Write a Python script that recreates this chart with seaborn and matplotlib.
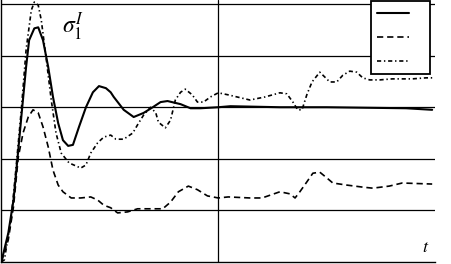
import numpy as np
import pandas as pd
import matplotlib
matplotlib.use("Agg")
import matplotlib.pyplot as plt
import seaborn as sns
from matplotlib.lines import Line2D

# ---- data ----
t_solid = [0, 0.16, 0.28, 0.39, 0.46, 0.57, 0.64, 0.76, 0.85, 0.96,
           1.08, 1.19, 1.31, 1.42, 1.54, 1.65, 1.79, 1.95, 2.11, 2.25,
           2.41, 2.52, 2.59, 2.82, 3.05, 3.28, 3.49, 3.67, 3.83, 4.13,
           4.36, 4.59, 5.00, 5.28, 6.42, 7.50, 9.33, 9.93]
y_solid = [0, 0.56, 1.20, 2.17, 2.81, 3.78, 4.30, 4.53, 4.55, 4.30,
           3.78, 3.20, 2.69, 2.36, 2.25, 2.27, 2.62, 3.00, 3.29, 3.41,
           3.37, 3.29, 3.20, 2.95, 2.81, 2.89, 3.00, 3.10, 3.12, 3.06,
           2.98, 2.98, 3.00, 3.02, 3.00, 3.00, 2.98, 2.95]

t_upper = [0, 0.07, 0.23, 0.34, 0.46, 0.57, 0.69, 0.76, 0.85, 0.92,
           1.03, 1.15, 1.26, 1.38, 1.56, 1.83, 1.95, 2.06, 2.22, 2.36,
           2.52, 2.64, 2.82, 3.03, 3.14, 3.28, 3.44, 3.56, 3.62, 3.78,
           3.90, 4.01, 4.13, 4.24, 4.40, 4.52, 4.66, 4.82, 5.00, 5.23,
           5.73, 6.08, 6.42, 6.58, 6.72, 6.83, 6.93, 7.04, 7.16, 7.34,
           7.45, 7.57, 7.73, 7.87, 8.03, 8.19, 8.33, 8.49, 8.72, 9.01,
           9.47, 9.79, 9.98]
y_upper = [0, 0.04, 0.87, 1.84, 2.95, 4.11, 4.88, 5.04, 4.98, 4.69,
           3.97, 3.14, 2.50, 2.11, 1.92, 1.82, 1.88, 2.11, 2.31, 2.42,
           2.46, 2.38, 2.38, 2.50, 2.66, 2.85, 3.00, 2.89, 2.71, 2.60,
           2.75, 3.14, 3.29, 3.35, 3.24, 3.10, 3.10, 3.20, 3.28, 3.24,
           3.14, 3.20, 3.28, 3.26, 3.10, 2.95, 2.95, 3.24, 3.49, 3.68,
           3.59, 3.49, 3.49, 3.62, 3.70, 3.68, 3.57, 3.53, 3.53, 3.55,
           3.55, 3.57, 3.57]

t_lower = [0, 0.16, 0.28, 0.39, 0.50, 0.62, 0.73, 0.85, 0.96, 1.08,
           1.19, 1.31, 1.42, 1.61, 1.83, 2.06, 2.22, 2.36, 2.52, 2.68,
           2.91, 3.14, 3.37, 3.72, 3.90, 4.08, 4.31, 4.52, 4.75, 5.00,
           5.23, 5.73, 6.01, 6.42, 6.65, 6.77, 6.88, 7.04, 7.18, 7.34,
           7.50, 7.64, 7.96, 8.33, 8.56, 8.94, 9.24, 9.93]
y_lower = [0, 0.43, 1.07, 2.03, 2.50, 2.81, 2.95, 2.89, 2.62, 2.23,
           1.78, 1.49, 1.36, 1.24, 1.24, 1.26, 1.20, 1.10, 1.05, 0.95,
           0.97, 1.03, 1.03, 1.03, 1.16, 1.36, 1.47, 1.40, 1.28, 1.24,
           1.26, 1.24, 1.24, 1.36, 1.32, 1.24, 1.36, 1.55, 1.72, 1.74,
           1.63, 1.53, 1.49, 1.45, 1.43, 1.47, 1.53, 1.51]

x_grid = [5]
y_grid = [1, 2, 3, 4, 5]

# ---- style ----
sns.set_style("white")
plt.rcParams["font.family"] = ["DejaVu Sans"]
plt.rcParams["mathtext.fontset"] = "stix"
plt.rcParams["lines.scale_dashes"] = False

fig = plt.figure(figsize=(4.51, 2.64), dpi=100)
ax = fig.add_axes([0.003, 0.008, 0.962, 0.992])

ax.set_xlim(0, 10)
ax.set_ylim(0, 5.08)

for gy in y_grid:
    ax.axhline(gy, color="black", lw=0.9, zorder=1)
for gx in x_grid:
    ax.axvline(gx, color="black", lw=0.9, zorder=1)

df_s = pd.DataFrame({"t": t_solid, "v": y_solid})
df_u = pd.DataFrame({"t": t_upper, "v": y_upper})
df_l = pd.DataFrame({"t": t_lower, "v": y_lower})

ls_upper = (0, (3.0, 2.0, 1.0, 2.0))
ls_lower = (0, (4.5, 2.8))

sns.lineplot(data=df_s, x="t", y="v", ax=ax, color="black", lw=1.5, errorbar=None, sort=False)
sns.lineplot(data=df_u, x="t", y="v", ax=ax, color="black", lw=1.2, errorbar=None, sort=False,
             linestyle=ls_upper)
sns.lineplot(data=df_l, x="t", y="v", ax=ax, color="black", lw=1.2, errorbar=None, sort=False,
             linestyle=ls_lower)

ax.set_xlabel("")
ax.set_ylabel("")
ax.set_xticks([])
ax.set_yticks([])
for side in ["top", "right"]:
    ax.spines[side].set_visible(False)
for side in ["left", "bottom"]:
    ax.spines[side].set_color("black")
    ax.spines[side].set_linewidth(1.0)

ax.text(1.40, 4.55, r"$\sigma_1^I$", fontsize=17, color="black", ha="left", va="center")
ax.text(9.70, 0.28, r"$t$", fontsize=13, color="black", ha="left", va="center")

handles = [Line2D([], [], color="black", lw=1.5),
           Line2D([], [], color="black", lw=1.2, linestyle=ls_lower),
           Line2D([], [], color="black", lw=1.2, linestyle=ls_upper)]
leg = fig.legend(handles, ["  ", "  ", "  "], loc="upper right",
                 bbox_to_anchor=(430 / 451, 0.995), borderaxespad=0.0,
                 fontsize=10, labelspacing=0.72,
                 handlelength=2.3, handletextpad=0.5, borderpad=0.4, fancybox=False,
                 framealpha=1, edgecolor="black")
leg.get_frame().set_linewidth(1.3)

fig.savefig("out.png", dpi=100)
